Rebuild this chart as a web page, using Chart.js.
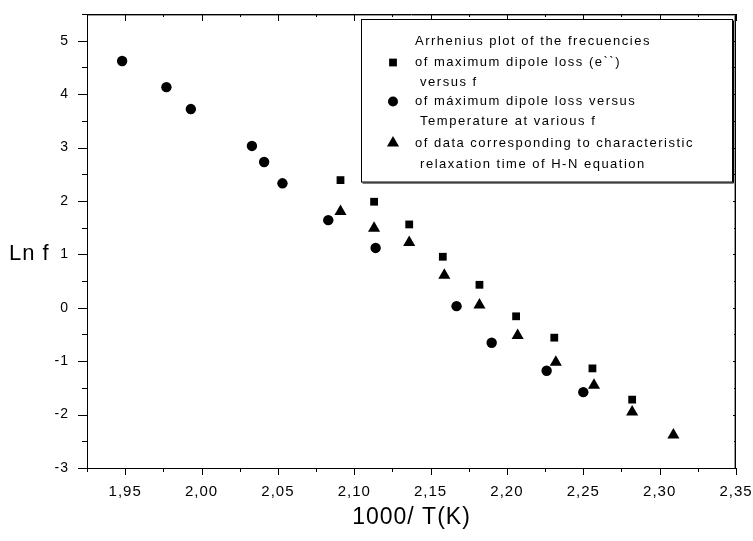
<!DOCTYPE html>
<html><head><meta charset="utf-8">
<script src="https://cdn.jsdelivr.net/npm/chart.js@4.4.1/dist/chart.umd.min.js"></script>
<style>html,body{margin:0;padding:0;background:#fff;overflow:hidden}</style>
</head><body>
<canvas id="c" width="753" height="541"></canvas>
<script>
// ---- data ----
const squareX = [2.091, 2.113, 2.136, 2.158, 2.182, 2.206, 2.231, 2.256, 2.282];
const squareY = [2.39, 1.985, 1.56, 0.955, 0.43, -0.16, -0.56, -1.135, -1.72];

const circleX = [1.948, 1.977, 1.993, 2.033, 2.041, 2.053, 2.083, 2.114, 2.167, 2.190, 2.226, 2.250];
const circleY = [4.62, 4.13, 3.72, 3.03, 2.73, 2.33, 1.64, 1.12, 0.03, -0.655, -1.18, -1.58];

const triangleX = [2.091, 2.113, 2.136, 2.159, 2.182, 2.207, 2.232, 2.257, 2.282, 2.309];
const triangleY = [1.80, 1.49, 1.22, 0.61, 0.05, -0.52, -1.02, -1.45, -1.95, -2.38];

const xMajorTicks = [1.95, 2.00, 2.05, 2.10, 2.15, 2.20, 2.25, 2.30, 2.35];
const xMinorTicks = [1.925, 1.975, 2.025, 2.075, 2.125, 2.175, 2.225, 2.275, 2.325];
const yMajorTicks = [-3, -2, -1, 0, 1, 2, 3, 4, 5];
const yMinorTicks = [-2.5, -1.5, -0.5, 0.5, 1.5, 2.5, 3.5, 4.5, 5.5];

const xTitle = '1000/ T(K)';
const yTitle = 'Ln f';
const legendLines = [
  {text: 'Arrhenius plot of the frecuencies', marker: null},
  {text: 'of maximum dipole loss (e``)', marker: 'rect'},
  {text: ' versus f', marker: null},
  {text: 'of máximum dipole loss versus', marker: 'circle'},
  {text: ' Temperature at various f', marker: null},
  {text: 'of data corresponding to characteristic', marker: 'triangle'},
  {text: ' relaxation time of H-N equation', marker: null}
];

const FONT = "'Liberation Sans', Arial, sans-serif";
const toPts = (xs, ys) => xs.map((x, i) => ({x: x, y: ys[i]}));

const framePlugin = {
  id: 'frame',
  beforeDraw(chart) {
    chart.ctx.letterSpacing = '1px';
  },
  afterDraw(chart) {
    const ctx = chart.ctx;
    const {left, right, top, bottom} = chart.chartArea;
    const xs = chart.scales.x, ys = chart.scales.y;
    const line = (x1, y1, x2, y2) => { ctx.beginPath(); ctx.moveTo(x1, y1); ctx.lineTo(x2, y2); ctx.stroke(); };
    ctx.save();
    ctx.letterSpacing = '0px';
    // shadow lines
    ctx.strokeStyle = '#9a9a9a'; ctx.lineWidth = 1;
    line(left + 1, top + 1.5, right - 1, top + 1.5);
    line(right - 1.5, top + 1, right - 1.5, bottom);
    // top & right frame
    ctx.strokeStyle = '#000';
    line(left, top + 0.5, right, top + 0.5);
    line(right - 0.5, top, right - 0.5, bottom + 1);
    // ticks
    const px = v => Math.round(xs.getPixelForValue(v)) + 0.5;
    const py = v => Math.round(ys.getPixelForValue(v)) + 0.5;
    xMajorTicks.forEach(v => { const p = px(v); line(p, bottom, p, bottom + 7); line(p, top, p, top + 7); });
    xMinorTicks.forEach(v => { const p = px(v); line(p, bottom, p, bottom + 4); line(p, top, p, top + 3); });
    yMajorTicks.forEach(v => { const p = py(v); line(left - 9, p, left, p); line(right - 3, p, right, p); });
    yMinorTicks.forEach(v => { const p = py(v); line(left - 5, p, left, p); line(right - 2, p, right, p); });

    // y title
    ctx.fillStyle = '#000';
    ctx.font = '22px ' + FONT;
    ctx.textAlign = 'left'; ctx.textBaseline = 'middle';
    ctx.letterSpacing = '1px';
    ctx.fillText(yTitle, 9, ys.getPixelForValue(1));

    // legend box
    const bx = 361.5, by = 19.5, bw = 371, bh = 162.5;
    ctx.fillStyle = '#fff';
    ctx.fillRect(bx, by, bw, bh);
    ctx.strokeStyle = '#000'; ctx.lineWidth = 1;
    ctx.strokeRect(bx, by, bw, bh);
    line(bx + bw + 1, by + 1, bx + bw + 1, by + bh + 1);
    line(bx + 1, by + bh + 1, bx + bw + 1, by + bh + 1);
    ctx.font = '13px ' + FONT;
    ctx.letterSpacing = '1.5px';
    ctx.fillStyle = '#000';
    const lineYs = [41, 62.5, 82.5, 101.5, 121.5, 143, 164];
    legendLines.forEach((l, i) => {
      ctx.fillText(l.text, 415, lineYs[i]);
      if (l.marker) {
        const r = l.marker === 'rect' ? 5.5 : (l.marker === 'triangle' ? 7 : 5);
        Chart.helpers.drawPoint(ctx, {pointStyle: l.marker, radius: r, rotation: 0, borderWidth: 0}, 393, lineYs[i]);
      }
    });
    ctx.restore();
  }
};

const common = {showLine: false, backgroundColor: '#000', borderColor: '#000', borderWidth: 0};

new Chart(document.getElementById('c'), {
  type: 'scatter',
  data: {
    datasets: [
      Object.assign({label: 'square', data: toPts(squareX, squareY), pointStyle: 'rect', pointRadius: 5.5}, common),
      Object.assign({label: 'circle', data: toPts(circleX, circleY), pointStyle: 'circle', pointRadius: 5.2}, common),
      Object.assign({label: 'triangle', data: toPts(triangleX, triangleY), pointStyle: 'triangle', pointRadius: 7}, common)
    ]
  },
  options: {
    responsive: false,
    animation: false,
    devicePixelRatio: 1,
    layout: {padding: {top: 14, right: 17, left: 0, bottom: 0}},
    plugins: {legend: {display: false}, tooltip: {enabled: false}},
    scales: {
      x: {
        type: 'linear', min: 1.925, max: 2.35,
        afterBuildTicks: s => { s.ticks = xMajorTicks.map(v => ({value: v})); },
        afterFit: s => { s.height = 73; s.paddingLeft = 0; s.paddingRight = 0; },
        ticks: {
          callback: v => Number(v).toFixed(2).replace('.', ','),
          font: {family: FONT, size: 15}, color: '#000', padding: 15,
          maxRotation: 0, autoSkip: false
        },
        grid: {display: false, drawTicks: false},
        border: {display: true, color: '#000', width: 1},
        title: {display: true, text: xTitle, color: '#000', font: {family: FONT, size: 23}, padding: {top: 0, bottom: 10}}
      },
      y: {
        type: 'linear', min: -3, max: 5.5,
        afterBuildTicks: s => { s.ticks = yMajorTicks.map(v => ({value: v})); },
        afterFit: s => { s.width = 87; s.paddingTop = 0; s.paddingBottom = 0; },
        ticks: {
          callback: v => String(v),
          font: {family: FONT, size: 14}, color: '#000', padding: 18
        },
        grid: {display: false, drawTicks: false},
        border: {display: true, color: '#000', width: 1}
      }
    }
  },
  plugins: [framePlugin]
});
</script>
</body></html>
